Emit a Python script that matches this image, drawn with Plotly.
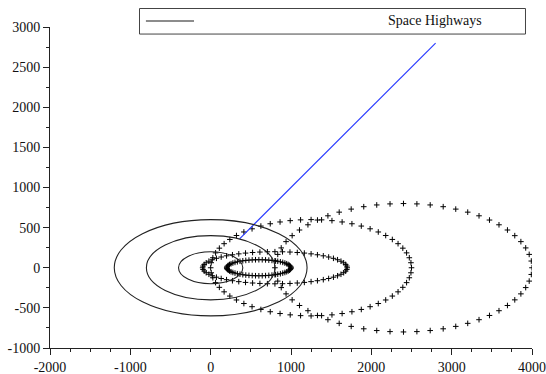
import numpy as np
import plotly.graph_objects as go

# ---- data ----
# solid orbits (ellipses centred on the origin)
orbit_cx = [0, 0, 0]
orbit_cy = [0, 0, 0]
orbit_rx = [400, 800, 1200]
orbit_ry = [200, 400, 600]

# dotted transfer ellipses (centre x, semi-axes)
transfer_cx = [600, 800, 1250, 2400]
transfer_cy = [0, 0, 0, 0]
transfer_rx = [400, 900, 1250, 1600]
transfer_ry = [100, 200, 600, 800]
transfer_n = [60, 60, 60, 60]

# space highway (blue line)
highway_x = [360, 2800]
highway_y = [360, 2800]

legend_label = "Space Highways"

x_tickvals = [-2000, -1000, 0, 1000, 2000, 3000, 4000]
x_ticktext = ["-2000", "-1000", "0", "1000", "2000", "3000", "4000"]
y_tickvals = [-1000, -500, 0, 500, 1000, 1500, 2000, 2500, 3000]
y_ticktext = ["-1000", "-500", "0", "500", "1000", "1500", "2000", "2500", "3000"]

x_range = [-2000, 4000]
y_range = [-1000, 3000]

FONT = "Liberation Serif, Times New Roman, serif"

fig = go.Figure()

# dotted ellipses as "+" markers
for cx, cy, rx, ry, n in zip(transfer_cx, transfer_cy, transfer_rx, transfer_ry, transfer_n):
    t = np.linspace(0, 2 * np.pi, n, endpoint=False)
    fig.add_trace(go.Scatter(
        x=cx + rx * np.cos(t), y=cy + ry * np.sin(t),
        mode="markers",
        marker=dict(symbol="cross-thin", size=4, color="black",
                    line=dict(width=1.0, color="black")),
        showlegend=False, hoverinfo="skip"))

# blue highway line
fig.add_trace(go.Scatter(x=highway_x, y=highway_y, mode="lines",
                         line=dict(color="#2a3cff", width=1.2),
                         showlegend=False, hoverinfo="skip"))

# solid orbits as ellipse shapes in data coordinates
for cx, cy, rx, ry in zip(orbit_cx, orbit_cy, orbit_rx, orbit_ry):
    fig.add_shape(type="circle", xref="x", yref="y",
                  x0=cx - rx, x1=cx + rx, y0=cy - ry, y1=cy + ry,
                  line=dict(color="#222222", width=1.1))

# manual legend box (paper coords)
fig.add_shape(type="rect", xref="paper", yref="paper",
              x0=0.1857, x1=0.9865, y0=0.978, y1=1.0576,
              line=dict(color="#444444", width=1), fillcolor="white")
fig.add_shape(type="line", xref="paper", yref="paper",
              x0=0.199, x1=0.2988, y0=1.0187, y1=1.0187,
              line=dict(color="#666666", width=1.3))
fig.add_annotation(xref="paper", yref="paper", x=0.7988, y=1.0187,
                   text=legend_label, showarrow=False,
                   xanchor="center", yanchor="middle",
                   font=dict(family=FONT, size=14, color="#111111"))

axis_common = dict(
    showgrid=False, zeroline=False, showline=True, linecolor="#222222",
    linewidth=1, ticks="outside", ticklen=6, tickcolor="#222222",
    tickwidth=1, tickfont=dict(family=FONT, size=14, color="#111111"),
    mirror=False, automargin=False,
)

fig.update_xaxes(range=x_range, tickmode="array", tickvals=x_tickvals,
                 ticktext=x_ticktext,
                 minor=dict(ticks="outside", ticklen=3, dtick=250,
                            tickcolor="#222222", showgrid=False),
                 **axis_common)
fig.update_yaxes(range=y_range, tickmode="array", tickvals=y_tickvals,
                 ticktext=y_ticktext,
                 minor=dict(ticks="outside", ticklen=3, dtick=250,
                            tickcolor="#222222", showgrid=False),
                 **axis_common)

fig.update_layout(
    width=546, height=374,
    margin=dict(l=50, r=14, t=27, b=26),
    paper_bgcolor="white", plot_bgcolor="white",
    showlegend=False,
    font=dict(family=FONT),
)

fig.write_html("out.html", config={"displayModeBar": False},
               post_script="document.body.style.margin='0';"
                           "document.body.style.overflow='hidden';")
